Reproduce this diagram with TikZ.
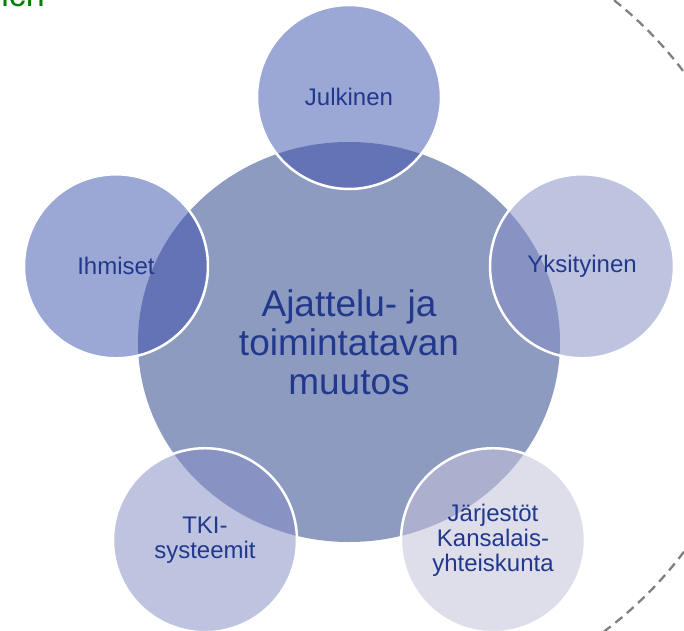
\documentclass[tikz,border=0pt]{standalone}
\usepackage{fontspec}
\setmainfont{Liberation Sans}
\usetikzlibrary{shapes.geometric}
\definecolor{hubfill}{RGB}{141,155,192}
\definecolor{textblue}{RGB}{34,56,140}
\definecolor{titlegreen}{RGB}{0,128,0}
\definecolor{ringgray}{RGB}{128,128,128}
\definecolor{darksat}{RGB}{155,168,214}
\definecolor{darkcut}{RGB}{99,115,181}
\definecolor{midsat}{RGB}{190,196,224}
\definecolor{midcut}{RGB}{136,147,195}
\definecolor{lightsat}{RGB}{221,222,234}
\definecolor{lightcut}{RGB}{170,176,206}

\begin{document}
\begin{tikzpicture}[x=1pt, y=1pt,
    sat/.style 2 args={circle, minimum size=184pt, inner sep=0pt, fill=#1,
        draw=white, line width=2.5pt, text=textblue, align=center,
        font=\fontsize{24}{25}\selectfont,
        path picture={\fill[#2] (hub.center) ellipse [x radius=211pt, y radius=200pt];}}]
    \useasboundingbox (-349,-288) rectangle (335,342);
    \clip (-349,-288) rectangle (335,342);

    % cut-off title and dashed ring
    \node[anchor=base east, inner sep=0pt, text=titlegreen, font=\fontsize{34}{34}\selectfont] (title) at (-304,335) {ich};
    \draw[ringgray, line width=2.3pt, dash pattern=on 9pt off 6pt] (16,30) ++(60:399) arc [start angle=60, end angle=-60, radius=399];

    \node[ellipse, fill=hubfill, minimum width=422pt, minimum height=400pt, inner sep=0pt,
        text=textblue, align=center, font=\fontsize{37}{39}\selectfont] (hub) at (0,0) {Ajattelu- ja\\toimintatavan\\muutos};

    \node[sat={darksat}{darkcut}] (julkinen) at (90:245) {Julkinen};
    \node[sat={midsat}{midcut}] (yksityinen) at (18:245) {Yksityinen};
    \node[sat={lightsat}{lightcut}] (jarjestot) at (-54:245) {Järjestöt\\Kansalais-\\yhteiskunta};
    \node[sat={midsat}{midcut}] (tki) at (234:245) {TKI-\\systeemit};
    \node[sat={darksat}{darkcut}] (ihmiset) at (162:245) {Ihmiset};
\end{tikzpicture}
\end{document}
